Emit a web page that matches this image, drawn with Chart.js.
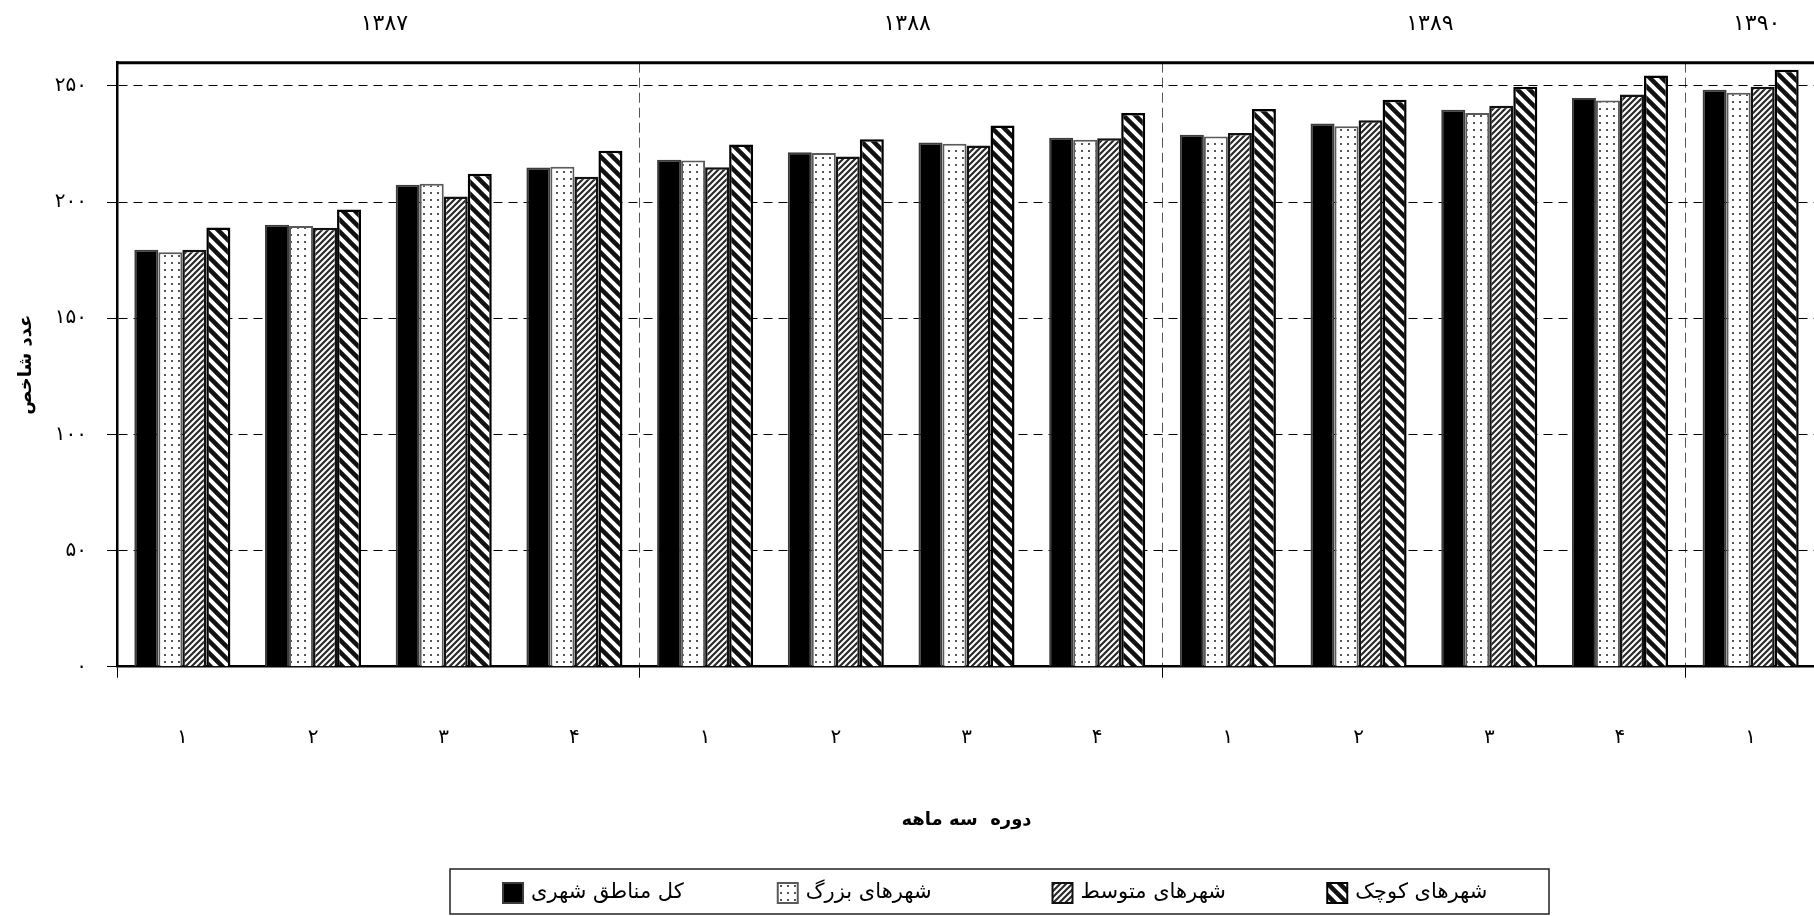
<!DOCTYPE html>
<html lang="fa">
<head>
<meta charset="utf-8">
<title>عدد شاخص</title>
<script src="https://cdn.jsdelivr.net/npm/chart.js@4.4.1/dist/chart.umd.min.js"></script>
<style>
	html, body { margin: 0; padding: 0; background: #fff; }
	#wrap { width: 1814px; height: 916px; overflow: hidden; position: relative; }
	#chart { display: block; }
</style>
</head>
<body>
<div id="wrap"><canvas id="chart" width="1820" height="916"></canvas></div>
<script>
const quarters = ['۱', '۲', '۳', '۴', '۱', '۲', '۳', '۴', '۱', '۲', '۳', '۴', '۱'];
const yearOfQuarter = [0, 0, 0, 0, 1, 1, 1, 1, 2, 2, 2, 2, 3];
const years = ['۱۳۸۷', '۱۳۸۸', '۱۳۸۹', '۱۳۹۰'];

const seriesNames = ['کل مناطق شهری', 'شهرهای بزرگ', 'شهرهای متوسط', 'شهرهای کوچک'];
const allUrban = [179.5, 190.2, 207.5, 214.9, 218.2, 221.5, 225.6, 227.7, 229.0, 233.8, 239.8, 244.8, 248.4];
const bigCities = [178.4, 189.7, 207.9, 215.2, 217.9, 221.1, 225.1, 226.8, 228.2, 232.6, 238.4, 243.7, 247.1];
const midCities = [179.5, 188.9, 202.4, 210.9, 215.0, 219.6, 224.4, 227.5, 229.7, 235.2, 241.5, 246.3, 249.7];
const smallCities = [189.1, 196.8, 212.2, 222.1, 224.8, 227.1, 233.0, 238.4, 240.1, 244.1, 249.6, 254.5, 257.0];

const yTicks = [0, 50, 100, 150, 200, 250];
const yTickLabels = ['۰', '۵۰', '۱۰۰', '۱۵۰', '۲۰۰', '۲۵۰'];

const FONT = "'DejaVu Sans', sans-serif";
Chart.defaults.font.family = FONT;
Chart.defaults.color = '#000';

function makePattern(w, h, draw) {
	const c = document.createElement('canvas');
	c.width = w;
	c.height = h;
	const g = c.getContext('2d');
	g.fillStyle = '#fff';
	g.fillRect(0, 0, w, h);
	draw(g);
	return g.createPattern(c, 'repeat');
}

const dotFill = makePattern(7, 7, g => {
	g.fillStyle = '#555';
	g.fillRect(3, 3, 2, 2);
});

const fineHatch = makePattern(6, 6, g => {
	g.strokeStyle = '#2a2a2a';
	g.lineWidth = 2.2;
	g.beginPath();
	g.moveTo(-1, 7); g.lineTo(7, -1);
	g.moveTo(-1, 1); g.lineTo(1, -1);
	g.moveTo(5, 7); g.lineTo(7, 5);
	g.stroke();
});

const coarseHatch = makePattern(12, 12, g => {
	g.strokeStyle = '#111';
	g.lineWidth = 4.5;
	g.beginPath();
	g.moveTo(-1, -1); g.lineTo(13, 13);
	g.moveTo(-4, 8); g.lineTo(4, 16);
	g.moveTo(8, -4); g.lineTo(16, 4);
	g.stroke();
});

const fills = ['#000', dotFill, fineHatch, coarseHatch];
const borders = ['#3c3c3c', '#5a5a5a', '#111', '#000'];
const borderWidths = [2, 2, 2.5, 2.5];

// year captions above the plot
const yearLabels = {
	id: 'yearLabels',
	afterDraw(chart) {
		const x = chart.scales.x;
		const ctx = chart.ctx;
		ctx.save();
		ctx.font = '22px ' + FONT;
		ctx.fillStyle = '#000';
		ctx.textAlign = 'center';
		ctx.textBaseline = 'middle';
		years.forEach((yr, g) => {
			const idx = [];
			yearOfQuarter.forEach((v, i) => { if (v === g) idx.push(i); });
			const px = (x.getPixelForValue(idx[0]) + x.getPixelForValue(idx[idx.length - 1])) / 2;
			ctx.fillText(yr, px + 6, 24);
		});
		ctx.restore();
	}
};

// thick top frame line
const topFrame = {
	id: 'topFrame',
	afterDraw(chart) {
		const {ctx, chartArea} = chart;
		ctx.save();
		ctx.strokeStyle = '#000';
		ctx.lineWidth = 3;
		ctx.beginPath();
		ctx.moveTo(chartArea.left - 1, chartArea.top);
		ctx.lineTo(chartArea.right, chartArea.top);
		ctx.stroke();
		ctx.restore();
	}
};

// boxed legend under the axis title
const boxedLegend = {
	id: 'boxedLegend',
	afterDraw(chart) {
		const ctx = chart.ctx;
		const left = 450, right = 1549, top = 869, bottom = 914;
		const slot = (right - left) / chart.data.datasets.length;
		ctx.save();
		ctx.strokeStyle = '#222';
		ctx.lineWidth = 1.5;
		ctx.strokeRect(left, top, right - left, bottom - top);
		ctx.font = '21px ' + FONT;
		ctx.textAlign = 'left';
		ctx.textBaseline = 'middle';
		chart.data.datasets.forEach((ds, i) => {
			const sx = left + slot * i + 53;
			const sy = 883;
			ctx.fillStyle = ds.backgroundColor;
			ctx.fillRect(sx, sy, 20, 20);
			ctx.strokeStyle = ds.borderColor;
			ctx.lineWidth = 2;
			ctx.strokeRect(sx, sy, 20, 20);
			ctx.fillStyle = '#000';
			ctx.fillText(ds.label, sx + 28, sy + 10);
		});
		ctx.restore();
	}
};

const seriesData = [allUrban, bigCities, midCities, smallCities];

new Chart(document.getElementById('chart'), {
	type: 'bar',
	data: {
		labels: quarters,
		datasets: seriesNames.map((name, i) => ({
			label: name,
			data: seriesData[i],
			backgroundColor: fills[i],
			borderColor: borders[i],
			borderWidth: borderWidths[i],
			categoryPercentage: 0.735,
			barPercentage: 1.0
		}))
	},
	options: {
		responsive: false,
		animation: false,
		devicePixelRatio: 1,
		layout: { padding: { top: 62.7, left: 0, right: 4, bottom: 0 } },
		plugins: {
			legend: { display: false },
			tooltip: { enabled: false }
		},
		scales: {
			x: {
				afterFit: s => { s.height = 249.3; },
				grid: {
					offset: true,
					color: c => c.index % 4 === 0 ? '#555' : 'rgba(0,0,0,0)',
					tickColor: c => c.index % 4 === 0 ? '#000' : 'rgba(0,0,0,0)',
					lineWidth: 1,
					tickLength: 11,
					tickBorderDash: []
				},
				border: { display: true, color: '#000', width: 2.5, dash: [10, 5] },
				ticks: { font: { size: 20 }, padding: 48, maxRotation: 0, autoSkip: false },
				title: {
					display: true,
					text: 'دوره  سه ماهه',
					font: { size: 18, weight: 'bold' },
					padding: { top: 4, bottom: 85 }
				}
			},
			y: {
				min: 0,
				max: 260,
				afterFit: s => { s.width = 117; },
				afterBuildTicks: s => { s.ticks = yTicks.map(v => ({ value: v })); },
				grid: {
					color: '#000',
					lineWidth: 1,
					tickLength: 10,
					tickColor: '#000',
					tickBorderDash: []
				},
				border: { display: true, color: '#000', width: 2.5, dash: [9, 6] },
				ticks: {
					font: { size: 20 },
					padding: 20,
					callback: (v, i) => yTickLabels[i]
				},
				title: {
					display: true,
					text: 'عدد شاخص',
					font: { size: 18, weight: 'bold' },
					padding: { top: 16, bottom: 4 }
				}
			}
		}
	},
	plugins: [yearLabels, topFrame, boxedLegend]
});
</script>
</body>
</html>
